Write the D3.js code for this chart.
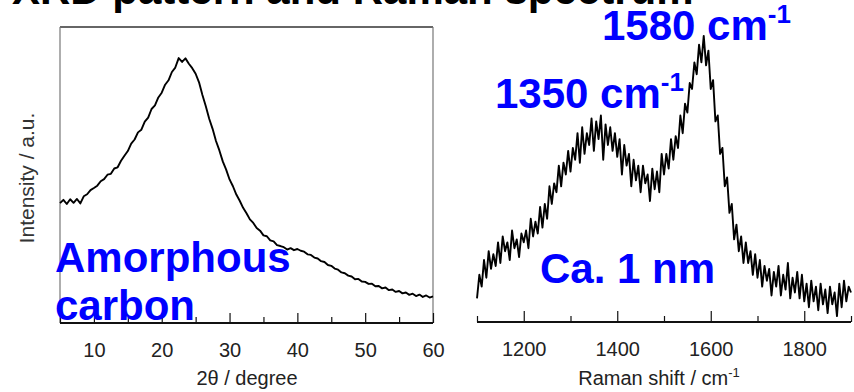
<!DOCTYPE html>
<html>
<head>
<meta charset="utf-8">
<script src="https://cdn.jsdelivr.net/npm/d3@7"></script>
<style>
  body { margin: 0; background: #fff; }
  svg { display: block; font-family: "Liberation Sans", Arial, sans-serif; }
</style>
</head>
<body>
<svg id="chart" width="854" height="392"></svg>
<script>
// XRD pattern, sampled every 0.5 degree from 5 to 60
const xrdStart = 5, xrdStep = 0.5;
const xrdIntensity = [
  40.5, 41.6, 40.2, 41.8, 40.6, 41.9, 40.4, 42.8, 43.5, 44.9,
  45.6, 46.4, 47.9, 48.6, 50.1, 50.4, 52.2, 52.6, 54.8, 56.5,
  58.1, 60.6, 62.0, 64.4, 65.3, 68.0, 69.4, 72.3, 73.5, 76.2,
  77.8, 80.5, 82.0, 84.8, 86.3, 89.5, 88.2, 89.4, 87.6, 86.1,
  84.2, 81.3, 77.0, 73.2, 69.0, 65.6, 61.5, 58.3, 54.6, 51.8,
  48.5, 46.2, 43.4, 41.3, 38.9, 37.1, 35.0, 33.8, 32.1, 31.2,
  29.6, 29.3, 27.9, 27.6, 26.3, 26.0, 25.6, 24.8, 25.3, 24.6,
  25.0, 24.4, 24.1, 23.2, 23.0, 22.1, 21.8, 20.9, 20.6, 19.6,
  19.3, 18.4, 18.0, 17.1, 16.8, 16.0, 15.7, 14.8, 14.9, 14.0,
  13.9, 13.2, 13.3, 12.4, 12.5, 11.7, 12.0, 11.1, 11.3, 10.5,
  10.8, 10.0, 10.3, 9.5, 9.9, 9.1, 9.6, 8.8, 9.3, 8.6, 9.0
];
const xrdTicks = [10, 20, 30, 40, 50, 60];
const xrdMinorTicks = [5, 15, 25, 35, 45, 55];

// Raman spectrum, sampled every 5 cm-1 from 1100 to 1900
const ramanStart = 1100, ramanStep = 5;
const ramanIntensity = [
  8, 16, 12, 21, 15, 24, 18, 23, 19, 27,
  20, 29, 24, 27, 21, 31, 25, 28, 22, 30,
  27, 31, 25, 35, 29, 34, 30, 39, 32, 40,
  35, 46, 40, 47, 44, 53, 46, 54, 50, 58,
  51, 59, 55, 64, 54, 66, 57, 64, 60, 69,
  58, 68, 62, 70, 55, 67, 60, 66, 58, 64,
  56, 62, 50, 60, 53, 57, 46, 55, 48, 53,
  44, 53, 47, 50, 41, 52, 45, 51, 44, 57,
  50, 57, 52, 62, 55, 63, 59, 70, 64, 74,
  71, 81, 79, 88, 84, 94, 88, 97, 87, 92,
  79, 82, 68, 70, 57, 59, 46, 49, 37, 40,
  28, 33, 24, 29, 20, 27, 20, 24, 16, 23,
  15, 21, 12, 19, 14, 18, 9, 17, 12, 19,
  9, 16, 11, 20, 8, 15, 10, 17, 8, 16,
  7, 13, 5, 14, 7, 12, 4, 13, 6, 11,
  3, 12, 6, 10, 2, 13, 5, 14, 7, 12, 10
];
const ramanTicks = [1200, 1400, 1600, 1800];
const ramanMinorTicks = [1100, 1300, 1500, 1700, 1900];

const svg = d3.select("#chart");
const blue = "#0000ff";
const ink = "#222";

// title, mostly cropped off the top
svg.append("text")
  .attr("x", 12).attr("y", 4)
  .attr("font-size", 42).attr("font-weight", "bold")
  .attr("fill", "#000")
  .text("XRD pattern and Raman spectrum");

// ---------- left panel: XRD ----------
const left = { x0: 60, x1: 433, y0: 27, y1: 323 };
const xX = d3.scaleLinear().domain([5, 60]).range([left.x0, left.x1]);
const xY = d3.scaleLinear().domain([0, 100]).range([left.y1, left.y0]);

svg.append("line").attr("x1", left.x0).attr("x2", left.x1)
  .attr("y1", left.y0).attr("y2", left.y0)
  .attr("stroke", "#333").attr("stroke-width", 1.5);
svg.append("line").attr("x1", left.x0).attr("x2", left.x0)
  .attr("y1", left.y0).attr("y2", left.y1)
  .attr("stroke", "#777").attr("stroke-width", 1.2);
svg.append("line").attr("x1", left.x1).attr("x2", left.x1)
  .attr("y1", left.y0).attr("y2", left.y1)
  .attr("stroke", "#777").attr("stroke-width", 1.2);

function drawAxis(scale, y, major, minor, majorLen, minorLen) {
  const g = svg.append("g").attr("transform", "translate(0," + y + ")");
  g.append("g")
    .call(d3.axisBottom(scale).tickValues(minor).tickSize(-minorLen).tickFormat(""))
    .call(a => a.select(".domain").remove())
    .selectAll("line").attr("stroke", "#111").attr("stroke-width", 1.2);
  const ax = g.append("g")
    .call(d3.axisBottom(scale).tickValues(major).tickSize(-majorLen)
      .tickPadding(20).tickFormat(d3.format("d")));
  ax.select(".domain").remove();
  ax.selectAll("line").attr("stroke", "#111").attr("stroke-width", 1.2);
  ax.selectAll("text")
    .attr("font-size", 20).attr("fill", ink)
    .attr("font-family", "Liberation Sans, Arial, sans-serif");
  g.append("line")
    .attr("x1", scale.range()[0]).attr("x2", scale.range()[1])
    .attr("stroke", "#111").attr("stroke-width", 2);
}

drawAxis(xX, left.y1, xrdTicks, xrdMinorTicks, 10, 6);

const xrdPoints = xrdIntensity.map((v, i) => [xrdStart + i * xrdStep, v]);
svg.append("path")
  .datum(xrdPoints)
  .attr("fill", "none")
  .attr("stroke", "#000")
  .attr("stroke-width", 1.9)
  .attr("stroke-linejoin", "round")
  .attr("d", d3.line().x(d => xX(d[0])).y(d => xY(d[1])));

svg.append("text")
  .attr("transform", "translate(34,178) rotate(-90)")
  .attr("text-anchor", "middle")
  .attr("font-size", 21).attr("fill", "#333")
  .text("Intensity / a.u.");

svg.append("text")
  .attr("x", 247).attr("y", 385)
  .attr("text-anchor", "middle")
  .attr("font-size", 20).attr("fill", ink)
  .text("2θ / degree");

// ---------- right panel: Raman ----------
const right = { x0: 477, x1: 851, y0: 27, y1: 322 };
const rX = d3.scaleLinear().domain([1100, 1900]).range([right.x0, right.x1]);
const rY = d3.scaleLinear().domain([0, 100]).range([right.y1, right.y0]);

drawAxis(rX, right.y1, ramanTicks, ramanMinorTicks, 11, 6);

const ramanPoints = ramanIntensity.map((v, i) => [ramanStart + i * ramanStep, v]);
svg.append("path")
  .datum(ramanPoints)
  .attr("fill", "none")
  .attr("stroke", "#000")
  .attr("stroke-width", 1.9)
  .attr("stroke-linejoin", "round")
  .attr("d", d3.line().x(d => rX(d[0])).y(d => rY(d[1])));

const rTitle = svg.append("text")
  .attr("x", 659).attr("y", 385)
  .attr("text-anchor", "middle")
  .attr("font-size", 20).attr("fill", ink);
rTitle.append("tspan").text("Raman shift / cm");
rTitle.append("tspan").attr("dy", -8).attr("font-size", 13).text("-1");

// ---------- blue annotations ----------
function label(x, y, main, sup) {
  const t = svg.append("text")
    .attr("x", x).attr("y", y)
    .attr("font-size", 42).attr("font-weight", "bold")
    .attr("fill", blue);
  t.append("tspan").text(main);
  if (sup) t.append("tspan").attr("dy", -17).attr("font-size", 26).text(sup);
  return t;
}
label(602, 40, "1580 cm", "-1");
label(495, 108, "1350 cm", "-1");
label(540, 283, "Ca. 1 nm");
label(55, 272, "Amorphous");
label(55, 320, "carbon");
</script>
</body>
</html>
